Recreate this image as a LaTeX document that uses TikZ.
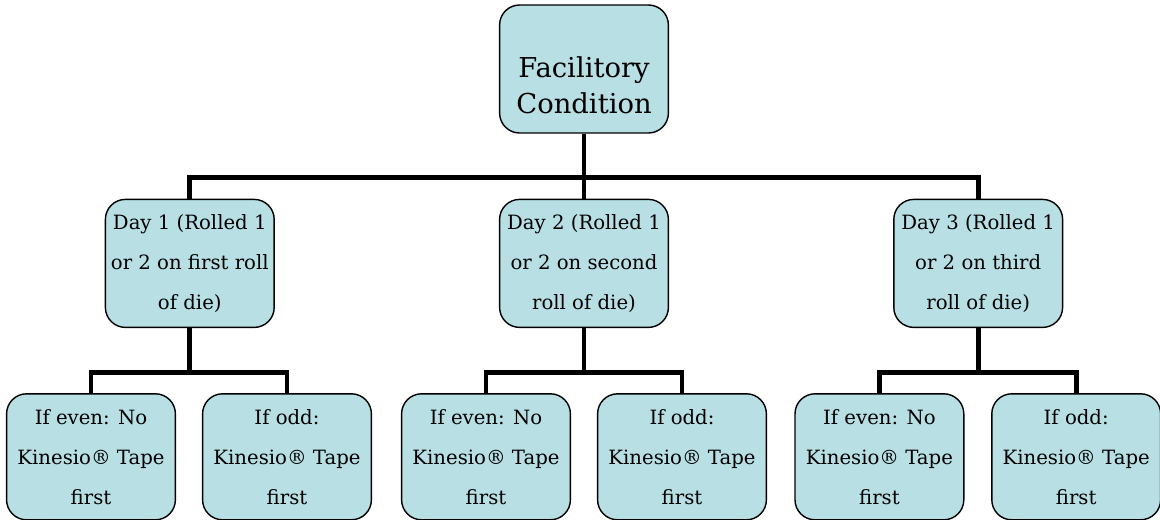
\documentclass[tikz,border=0pt]{standalone}
\usepackage{fontspec}
\setmainfont{DejaVu Serif}
\usetikzlibrary{positioning}
\definecolor{boxblue}{RGB}{184,223,228}

\begin{document}
\begin{tikzpicture}[
  box/.style={
  rectangle,
  rounded corners=0.5cm,
  draw,
  line width=1pt,
  fill=boxblue,
  minimum width=4.22cm,
  minimum height=3.2cm,
  align=center,
  inner sep=0pt,
  font=\fontsize{14}{28.5}\selectfont},
  link/.style={line width=3.5pt}
  ]
  \useasboundingbox (0,0) rectangle (29,-13);

  \node[box, font=\fontsize{19.5}{25.5}\selectfont] (fc) at (14.6,-1.725)
  {\rule{0pt}{1.35cm}Facilitory\\Condition};

  \node[box, below=1.625cm of fc] (d2) {Day 2 (Rolled 1\\or 2 on second\\roll of die)};
  \node[box, left=5.6cm of d2] (d1) {Day 1 (Rolled 1\\or 2 on first roll\\of die)};
  \node[box, right=5.6cm of d2] (d3) {Day 3 (Rolled 1\\or 2 on third\\roll of die)};

  \node[box, minimum height=3.15cm, below=1.625cm of d1, xshift=-2.47cm] (e1) {If even: No\\Kinesio® Tape\\first};
  \node[box, minimum height=3.15cm, below=1.625cm of d1, xshift=2.43cm] (o1) {If odd:\\Kinesio® Tape\\first};
  \node[box, minimum height=3.15cm, below=1.625cm of d2, xshift=-2.45cm] (e2) {If even: No\\Kinesio® Tape\\first};
  \node[box, minimum height=3.15cm, below=1.625cm of d2, xshift=2.45cm] (o2) {If odd:\\Kinesio® Tape\\first};
  \node[box, minimum height=3.15cm, below=1.625cm of d3, xshift=-2.47cm] (e3) {If even: No\\Kinesio® Tape\\first};
  \node[box, minimum height=3.15cm, below=1.625cm of d3, xshift=2.45cm] (o3) {If odd:\\Kinesio® Tape\\first};

  % top level bus
  \draw[link] (fc.south) -- ++(0,-1.1) coordinate (j0);
  \draw[link] (d1.north) |- (j0) -| (d3.north);
  \draw[link] (j0) -- (d2.north);

  % day level buses
  \draw[link] (d1.south) -- ++(0,-1.1) coordinate (j1);
  \draw[link] (e1.north) |- (j1) -| (o1.north);
  \draw[link] (d2.south) -- ++(0,-1.1) coordinate (j2);
  \draw[link] (e2.north) |- (j2) -| (o2.north);
  \draw[link] (d3.south) -- ++(0,-1.1) coordinate (j3);
  \draw[link] (e3.north) |- (j3) -| (o3.north);
\end{tikzpicture}
\end{document}
